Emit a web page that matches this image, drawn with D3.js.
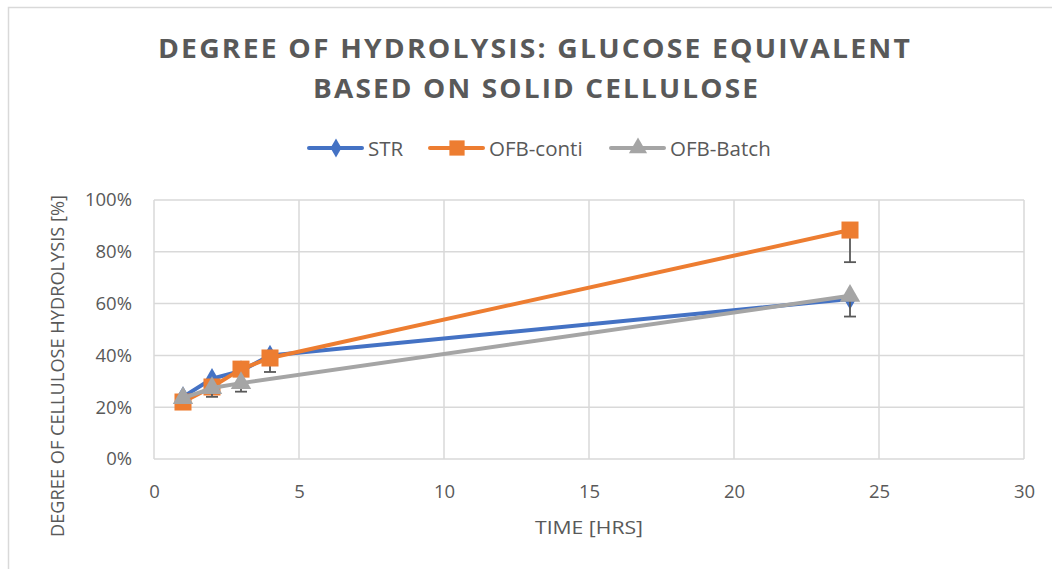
<!DOCTYPE html>
<html>
<head>
<meta charset="utf-8">
<script src="https://cdn.jsdelivr.net/npm/d3@7"></script>
<style>
  body { margin: 0; background: #fff; }
  text { font-family: "Open Sans", "DejaVu Sans", sans-serif; fill: #595959; }
</style>
</head>
<body>
<div id="chart"></div>
<script>
// values (time in hrs, hydrolysis in %)
const strTime = [1, 2, 3, 4, 24];
const strValue = [24, 31, 34, 40, 61.8];

const contiTime = [1, 2, 3, 4, 24];
const contiValue = [22, 27.8, 34.7, 39, 88.4];
const contiError = [0, 0, 0, 5.4, 12.4];

const batchTime = [1, 2, 3, 24];
const batchValue = [23.5, 27.4, 29.3, 63];
const batchError = [0, 3.4, 3.3, 8];

const xTicks = [0, 5, 10, 15, 20, 25, 30];
const yTicks = [0, 20, 40, 60, 80, 100];

const seriesNames = ["STR", "OFB-conti", "OFB-Batch"];
const colors = ["#4472C4", "#ED7D31", "#A5A5A5"];

const width = 1052, height = 569;
const margin = {top: 200, right: 28, bottom: 110, left: 154};

const svg = d3.select("#chart").append("svg")
  .attr("width", width)
  .attr("height", height);

// chart area border
svg.append("rect")
  .attr("x", 8.5).attr("y", 7.5)
  .attr("width", width + 20).attr("height", height + 20)
  .attr("fill", "none").attr("stroke", "#d9d9d9").attr("stroke-width", 1.5);

const x = d3.scaleLinear().domain([0, 30]).range([margin.left, width - margin.right]);
const y = d3.scaleLinear().domain([0, 100]).range([height - margin.bottom, margin.top]);

// gridlines
svg.append("g")
  .selectAll("line").data(yTicks).join("line")
  .attr("x1", x(0)).attr("x2", x(30))
  .attr("y1", d => y(d)).attr("y2", d => y(d))
  .attr("stroke", "#d9d9d9").attr("stroke-width", 1.5);
svg.append("g")
  .selectAll("line").data(xTicks).join("line")
  .attr("x1", d => x(d)).attr("x2", d => x(d))
  .attr("y1", y(0)).attr("y2", y(100))
  .attr("stroke", "#d9d9d9").attr("stroke-width", 1.5);

// axes (labels only, Excel style)
const xAxis = svg.append("g")
  .attr("transform", "translate(0," + y(0) + ")")
  .call(d3.axisBottom(x).tickValues(xTicks).tickSize(0).tickPadding(26));
const yAxis = svg.append("g")
  .attr("transform", "translate(" + x(0) + ",0)")
  .call(d3.axisLeft(y).tickValues(yTicks).tickSize(0).tickPadding(22).tickFormat(d => d + "%"));
[xAxis, yAxis].forEach(a => {
  a.select(".domain").remove();
  a.selectAll("text").style("font-size", "18.5px").attr("fill", "#595959")
    .style("font-family", "'Open Sans', sans-serif");
});

// axis titles
svg.append("text")
  .attr("x", 589).attr("y", 534)
  .attr("text-anchor", "middle")
  .style("font-size", "19px")
  .attr("textLength", 108).attr("lengthAdjust", "spacingAndGlyphs")
  .text("TIME [HRS]");
svg.append("text")
  .attr("transform", "translate(64,366) rotate(-90)")
  .attr("text-anchor", "middle")
  .style("font-size", "19px")
  .attr("textLength", 342).attr("lengthAdjust", "spacingAndGlyphs")
  .text("DEGREE OF CELLULOSE HYDROLYSIS [%]");

// title
svg.append("text")
  .attr("x", 158).attr("y", 58)
  .style("font-size", "26px").style("font-weight", "bold")
  .attr("textLength", 754).attr("lengthAdjust", "spacingAndGlyphs")
  .style("letter-spacing", "2px")
  .text("DEGREE OF HYDROLYSIS: GLUCOSE EQUIVALENT");
svg.append("text")
  .attr("x", 313).attr("y", 98)
  .style("font-size", "26px").style("font-weight", "bold")
  .attr("textLength", 447).attr("lengthAdjust", "spacingAndGlyphs")
  .style("letter-spacing", "2px")
  .text("BASED ON SOLID CELLULOSE");

const symbols = [d3.symbolDiamond, d3.symbolSquare, d3.symbolTriangle];
const symbolSizes = [130, 290, 180];

const series = [
  {time: strTime, value: strValue, error: null},
  {time: contiTime, value: contiValue, error: contiError},
  {time: batchTime, value: batchValue, error: batchError}
];

const line = d3.line().x(d => x(d[0])).y(d => y(d[1]));

series.forEach((s, i) => {
  const pts = s.time.map((t, j) => [t, s.value[j], s.error ? s.error[j] : 0]);
  const g = svg.append("g");

  // minus error bars
  const eb = g.selectAll(".err").data(pts.filter(p => p[2] > 0)).join("g");
  eb.append("line")
    .attr("x1", d => x(d[0])).attr("x2", d => x(d[0]))
    .attr("y1", d => y(d[1])).attr("y2", d => y(d[1] - d[2]))
    .attr("stroke", "#595959").attr("stroke-width", 1.8);
  eb.append("line")
    .attr("x1", d => x(d[0]) - 6).attr("x2", d => x(d[0]) + 6)
    .attr("y1", d => y(d[1] - d[2])).attr("y2", d => y(d[1] - d[2]))
    .attr("stroke", "#595959").attr("stroke-width", 1.8);

  g.append("path")
    .datum(pts)
    .attr("fill", "none")
    .attr("stroke", colors[i])
    .attr("stroke-width", 4)
    .attr("stroke-linejoin", "round")
    .attr("stroke-linecap", "round")
    .attr("d", line);

  g.selectAll(".marker").data(pts).join("path")
    .attr("transform", d => "translate(" + x(d[0]) + "," + y(d[1]) + ")")
    .attr("d", d3.symbol(symbols[i], symbolSizes[i]))
    .attr("fill", colors[i]);
});

// legend
const legendX = [309, 430, 611];
const legend = svg.append("g");
seriesNames.forEach((name, i) => {
  const lg = legend.append("g").attr("transform", "translate(" + legendX[i] + ",148)");
  lg.append("line").attr("x1", 0).attr("x2", 53)
    .attr("stroke", colors[i]).attr("stroke-width", 4).attr("stroke-linecap", "round");
  lg.append("path").attr("transform", "translate(27,0)")
    .attr("d", d3.symbol(symbols[i], symbolSizes[i] * 0.8))
    .attr("fill", colors[i]);
  lg.append("text").attr("x", 59).attr("y", 7.5)
    .style("font-size", "20.5px")
    .text(name);
});
</script>
</body>
</html>
